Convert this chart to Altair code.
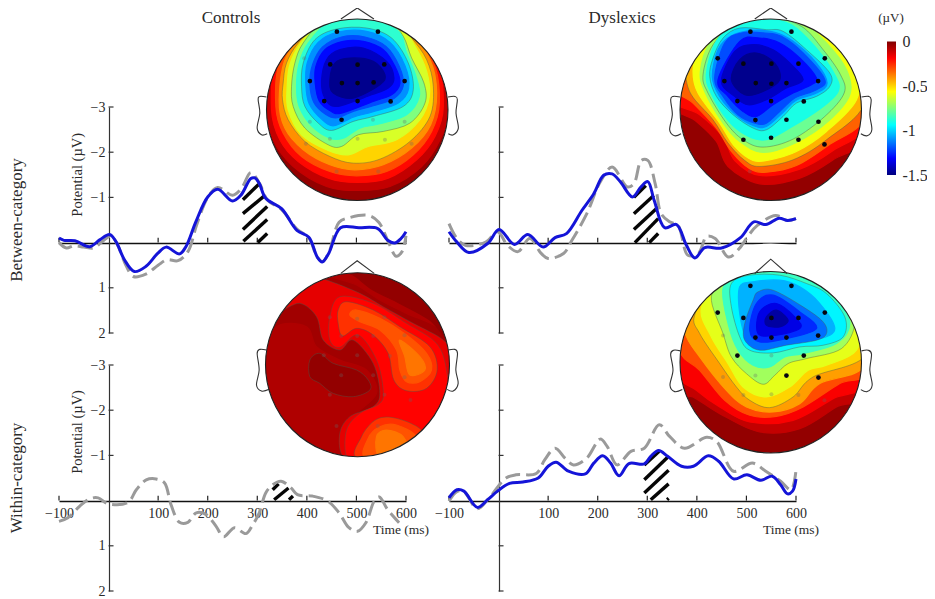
import numpy as np
import pandas as pd
import altair as alt

SERIF = "Liberation Serif"
INK = "#2a2a2a"
JET_V = [-1.5, -1.3125, -1.125, -0.9375, -0.75, -0.5625, -0.375, -0.1875, 0]
JET_C = ["#00007f", "#0000ff", "#007fff", "#00ffff", "#7fff7f", "#ffff00", "#ff7f00", "#ff0000", "#7f0000"]

# ---- time courses (ms, potential in uV) ----
TL_T = [-100,-90,-68,-38,-18,2,15,32,52,75,99,116,143,156,176,200,220,250,267,287,295,304,317,349,380,404,421,431,444,468,505,543,563,577,590,600]
TL_B = [-0.10,-0.05,-0.04,0.09,-0.06,-0.18,-0.02,0.38,0.64,0.53,0.24,0.10,0.25,0.09,-0.46,-1.01,-1.18,-0.92,-1.05,-1.42,-1.43,-1.31,-0.98,-0.75,-0.27,-0.12,0.32,0.43,0.24,-0.33,-0.33,-0.31,-0.05,0.01,-0.09,-0.24]
TL_GT = [-100,-85,-70,-50,-30,-15,5,18,35,50,75,100,118,140,160,178,200,220,250,268,287,305,320,350,380,404,421,432,445,465,485,525,545,565,580,592,600]
TL_G = [0.0,0.12,0.07,0.1,0.12,0.0,-0.15,0.05,0.5,0.75,0.7,0.5,0.38,0.4,0.2,-0.4,-1.0,-1.22,-1.05,-1.2,-1.55,-1.3,-0.95,-0.72,-0.3,-0.1,0.32,0.42,0.2,-0.45,-0.55,-0.6,-0.45,0.0,0.3,0.2,-0.15]
TR_T = [-100,-84,-60,-22,1,32,59,90,114,137,168,192,212,229,246,270,287,301,314,335,359,379,396,416,450,488,515,539,566,583,600]
TR_B = [-0.24,-0.01,0.22,0.02,-0.29,0.04,-0.18,0.10,-0.11,-0.20,-0.71,-1.08,-1.49,-1.52,-1.34,-1.01,-1.23,-1.35,-0.93,-0.33,-0.40,0.06,0.34,0.11,0.12,-0.11,-0.46,-0.40,-0.54,-0.49,-0.53]
TR_GT = [-100,-84,-67,-26,-2,18,39,63,86,100,131,148,178,205,229,260,273,288,301,316,328,345,362,382,403,420,437,464,488,501,522,559,583,600]
TR_G = [-0.42,-0.09,0.06,-0.01,-0.24,0.06,0.2,-0.09,0.24,0.35,0.24,-0.05,-0.64,-1.34,-1.67,-1.23,-1.3,-1.82,-1.82,-1.3,-0.64,-0.46,-0.38,0.28,0.24,-0.14,-0.09,0.32,0.1,-0.11,-0.38,-0.6,-0.49,-0.53]
BL_GT = [-100,-82,-58,-38,-21,-1,39,56,76,96,113,126,143,160,177,197,217,232,254,277,291,304,317,331,348,368,381,411,442,465,485,502,519,536,546,563,586]
BL_G = [0.46,0.38,0.12,-0.04,-0.06,0.07,0.04,-0.24,-0.46,-0.48,-0.39,0.09,0.48,0.48,0.27,0.31,0.57,0.8,0.6,0.73,0.53,0.27,-0.17,-0.35,-0.43,-0.28,-0.13,-0.1,0.01,0.27,0.6,0.68,0.49,0.01,-0.08,0.2,0.49]
BR_T = [-100,-84,-70,-43,-22,-2,22,49,80,100,116,141,175,192,210,226,243,263,294,307,323,341,369,393,423,444,474,501,529,552,569,583,593,600]
BR_B = [-0.06,-0.24,-0.21,0.15,-0.02,-0.21,-0.38,-0.41,-0.5,-0.76,-0.85,-0.65,-0.59,-0.83,-0.99,-0.83,-0.55,-0.82,-0.81,-0.98,-1.11,-0.98,-0.76,-0.76,-0.99,-0.87,-0.48,-0.57,-0.45,-0.54,-0.35,-0.15,-0.21,-0.48]
BR_GT = [-100,-84,-70,-43,-19,15,35,76,93,114,134,151,178,205,219,239,267,294,324,345,375,420,440,474,512,539,569,590,600]
BR_G = [0.01,-0.2,-0.2,0.18,-0.06,-0.5,-0.57,-0.6,-0.9,-1.16,-0.94,-0.79,-0.94,-1.36,-1.2,-0.79,-1.09,-1.16,-1.68,-1.42,-1.16,-1.4,-1.31,-0.65,-0.83,-0.65,-0.43,-0.24,-0.67]

# hatch strokes: t0, v0, t1, v1
TL_H = [(272,-0.03,320,-0.51),(271,-0.29,320,-0.8),(271,-0.64,316,-1.05),(271,-0.95,303,-1.29),(301,0.0,320,-0.2)]
TR_H = [(275,0,322,-0.53),(273,-0.29,322,-0.79),(273,-0.64,313,-1.04),(273,-1.0,297,-1.26),(304,0,322,-0.2)]
BL_H = [(334,-0.02,363,-0.28),(331,-0.24,343,-0.37),(364,-0.02,372,-0.1)]
BR_H = [(307,-0.02,343,-0.37),(294,-0.17,343,-0.67),(294,-0.46,341,-0.96),(294,-0.79,324,-1.09),(340,-0.02,343,-0.05)]

X_TICKS = [-100, 100, 200, 300, 400, 500, 600]
Y_TICKS = [-3, -2, -1, 1, 2]

# ---- scalp maps: (level in uV, closed outline x y x y ..., drawn contour?) ----
H1_BANDS = [
 (-0.1,[82,330,100,420,160,500,260,560,352,572,450,560,545,500,600,420,624,330,600,190,500,90,352,40,200,90,100,190],False),
 (-0.2,[95,330,120,420,175,485,265,535,352,548,445,535,530,480,585,410,610,320,590,190,495,90,352,40,205,90,110,190],False),
 (-0.3,[108,320,130,400,185,470,270,515,350,528,440,515,520,465,575,395,598,310,580,190,490,90,352,42,210,90,120,190],False),
 (-0.4,[118,300,135,385,190,450,270,495,345,510,430,495,515,445,572,375,590,280,570,180,505,100,352,45,225,85,140,170],False),
 (-0.5,[130,250,128,300,145,360,195,425,270,470,340,490,420,478,510,425,570,350,580,260,560,180,515,115,470,70,352,50,235,75,175,130,140,190],True),
 (-0.62,[142,260,145,330,185,405,265,452,325,465,385,440,470,420,540,360,568,290,560,215,525,140,475,75,352,50,240,72,180,135,150,195],False),
 (-0.75,[155,260,160,320,195,385,265,435,305,440,355,405,430,395,510,370,555,310,552,250,515,175,490,110,450,70,352,52,250,68,190,130,165,190],True),
 (-0.87,[170,260,178,320,215,378,270,415,310,415,360,385,420,372,500,345,538,290,528,230,500,160,470,90,352,52,270,65,205,130,178,190],False),
 (-1.0,[185,260,195,320,235,370,275,392,340,365,400,350,490,320,520,270,505,190,455,115,380,85,290,88,225,120,190,190],True),
 (-1.1,[198,255,208,312,245,358,282,378,340,352,400,336,475,310,506,266,495,198,450,128,380,95,295,97,235,128,202,190],False),
 (-1.2,[210,252,222,308,258,344,292,354,342,334,400,318,462,296,490,258,478,200,438,140,375,112,305,112,248,142,218,195],False),
 (-1.3,[226,250,238,304,272,334,305,340,400,305,455,285,480,250,465,200,430,150,370,125,310,125,255,150,228,200],False),
 (-1.4,[245,245,255,295,290,320,395,285,445,265,462,235,440,185,370,145,300,150,260,180],False),
 (-1.48,[270,240,280,280,340,295,420,255,435,225,400,185,330,175,285,190],False),
]
H1_ON = [291,96,414,96,271,194,353,195,433,194,210,244,306,250,353,250,401,248,494,244,253,304,353,304,452,305,305,360]
H1_OFF = [193,176,210,366,399,360,494,366,270,417,353,417,435,420,290,515,415,515,515,432,198,432]
H1_EARS = [[80,292,60,290,55,300,60,340,52,385,65,405,82,402],[624,292,645,290,652,300,648,340,655,385,640,405,625,402]]
H1_NOSE = [303,58,352,25,402,58]

H2_BANDS = [
 (-0.12,[40,310,110,365,170,425,205,500,300,552,420,535,520,480,620,400,610,130,333,10,56,130],False),
 (-0.2,[40,295,120,345,190,412,225,482,300,527,420,508,520,452,620,368,610,130,333,10,56,130],False),
 (-0.33,[50,265,100,310,170,385,215,455,270,507,320,517,410,497,505,437,620,345,610,130,333,10,56,130],False),
 (-0.45,[75,215,95,285,160,360,205,430,255,482,300,500,400,480,500,420,615,310,610,130,333,20,60,120],True),
 (-0.58,[100,215,115,280,180,370,225,440,280,482,330,480,410,455,500,395,590,300,590,200,510,110,333,30,170,90,115,160],False),
 (-0.7,[122,215,135,275,190,370,240,425,310,458,410,428,505,365,570,285,560,210,500,130,420,60,333,40,220,65,150,130],False),
 (-0.78,[130,225,145,280,200,370,250,420,310,442,400,418,495,350,553,280,542,225,490,150,425,80,333,55,230,75,160,135],True),
 (-0.9,[140,222,155,282,205,362,262,408,320,420,390,385,480,328,535,275,525,225,465,140,395,75,320,58,235,68,170,125],False),
 (-1.0,[150,230,170,290,220,345,280,385,320,390,370,350,410,310,470,290,510,260,510,220,440,150,370,95,320,90,240,85,190,115,160,175],True),
 (-1.1,[158,232,180,290,228,345,282,378,320,380,368,340,408,302,470,280,502,250,470,190,400,125,345,98,280,92,215,108,175,150],False),
 (-1.2,[165,235,190,290,235,345,285,370,320,370,365,330,405,295,470,270,495,240,430,160,365,110,315,100,245,100,195,130],False),
 (-1.3,[175,240,205,290,250,335,290,350,340,315,400,280,455,255,470,235,420,175,360,130,300,115,240,125],False),
 (-1.4,[185,245,225,290,265,315,320,300,380,265,430,240,390,190,340,150,280,135,225,155],False),
 (-1.48,[215,240,255,285,310,275,360,240,345,190,290,160,240,180],False),
]
H2_ON = [272,96,395,96,174,176,495,176,251,192,335,192,416,192,194,244,288,250,335,252,380,250,475,244,233,304,334,304,432,305,287,361,380,360,476,366,251,420,334,414,416,420,494,434]
H2_OFF = [270,515]
H2_EARS = [[61,292,40,290,33,300,38,345,30,390,45,408,64,402],[605,292,626,290,634,300,630,345,636,390,622,408,603,402]]
H2_NOSE = [285,58,333,25,382,58]

H3_BANDS = [
 (-0.07,[70,300,110,200,200,200,230,260,300,300,380,330,410,400,340,470,300,540,290,600,180,560,90,440],False),
 (-0.15,[200,50,260,60,360,100,430,140,520,190,610,240,650,300,640,420,560,550,380,610,310,590,300,520,330,470,400,440,420,400,400,310,340,240,300,270,250,240,230,170,180,130,120,150,140,80],True),
 (-0.19,[270,170,300,110,400,130,500,190,590,250,620,330,620,430,540,560,360,600,320,590,320,510,360,460,420,430,430,390,410,300,355,225,300,262,270,240],True),
 (-0.26,[295,190,295,150,320,125,400,150,480,200,570,260,592,330,560,385,500,392,462,360,445,280,400,225,350,205,308,228],True),
 (-0.26,[358,595,365,530,410,478,470,475,545,510,565,570],True),
 (-0.31,[330,165,350,150,420,175,500,225,560,280,575,330,540,365,500,365,480,330,470,270,420,210,360,185],False),
 (-0.31,[380,595,385,535,420,500,470,495,530,530,530,585],False),
 (-0.36,[480,240,540,290,555,330,510,345,495,290],False),
 (-0.36,[410,530,440,510,490,530,500,580,420,590],False),
 (-0.07,[270,40,350,75,420,120,500,160,590,200,640,260,610,90,450,10],False),
 (-0.03,[300,35,340,45,400,90,480,130,570,180,625,235,600,100,450,20],False),
 (-0.03,[210,350,210,300,240,280,280,310,350,330,385,360,390,390,340,410,280,400,240,370],True),
]
H3_ON = []
H3_OFF = [270,172,352,176,434,172,304,228,352,228,400,228,494,226,252,286,352,286,450,288,304,346,400,346,494,352,270,404,434,404,512,420,290,498,414,498]
H3_EARS = [[80,270,60,268,52,280,58,330,50,375,65,393,88,388],[625,270,645,268,653,280,648,330,655,370,640,393,622,388]]
H3_NOSE = [303,40,352,2,403,40]

H4_BANDS = [
 (-0.1,[40,420,100,440,180,490,300,545,420,535,530,470,620,420,610,140,333,20,56,140],False),
 (-0.18,[50,360,110,420,180,470,270,515,400,510,520,445,620,390,610,140,333,20,56,140],False),
 (-0.3,[60,300,120,360,195,450,270,495,350,498,430,470,540,400,620,360,610,140,333,20,56,140],False),
 (-0.42,[75,245,120,320,200,420,260,470,340,485,420,460,480,400,620,340,610,140,333,30,60,120],False),
 (-0.5,[105,195,120,250,180,340,230,410,270,450,330,472,400,440,460,380,620,312,610,140,520,80,333,40,170,90],True),
 (-0.6,[125,175,155,260,205,340,250,410,320,440,390,410,445,360,500,345,590,300,600,200,520,100,333,45,190,90],False),
 (-0.7,[155,140,190,250,215,320,260,370,310,402,345,375,385,340,440,325,545,295,585,220,560,150,490,90,360,60,210,90],True),
 (-0.85,[190,115,205,220,235,300,280,345,330,350,375,320,430,310,530,280,570,220,530,140,470,90,350,62,240,80],False),
 (-0.95,[215,100,215,170,240,260,270,300,340,308,420,290,490,285,550,260,555,200,500,130,440,100,360,75,270,75],True),
 (-1.05,[240,110,240,190,260,265,300,290,380,275,480,265,525,235,480,160,420,110,360,90,280,95],False),
 (-1.15,[280,150,295,125,340,120,430,170,490,215,500,250,470,270,380,285,300,300,255,270,255,220],True),
 (-1.25,[290,160,340,135,420,185,470,235,380,265,300,275,270,240],False),
 (-1.35,[300,185,350,160,410,205,420,235,350,255,295,250],False),
 (-1.45,[320,200,350,180,385,210,360,230,320,225],False),
]
H4_ON = [272,107,395,107,174,187,495,187,251,203,335,203,416,203,287,262,335,262,380,262,475,256,233,316,432,316,380,376,476,382]
H4_OFF = [190,256,335,316,287,376,190,380,251,434,335,432,416,434,494,450]
H4_EARS = [[62,302,42,300,33,312,40,360,31,405,45,424,68,418],[605,302,625,300,635,312,630,360,637,405,622,424,603,418]]
H4_NOSE = [285,70,333,27,382,70]

W, H = 919, 590


def jet(v):
    stops = np.array([[int(c[i:i + 2], 16) for i in (1, 3, 5)] for c in JET_C], float)
    rgb = [int(round(np.interp(v, JET_V, stops[:, k]))) for k in range(3)]
    return "#%02x%02x%02x" % tuple(rgb)


def pts(flat):
    a = np.array(flat, float).reshape(-1, 2)
    return pd.DataFrame({"x": a[:, 0], "y": a[:, 1], "i": np.arange(len(a))})


def head(bands, on, off, ears, nose, dom_x, dom_y, box, base):
    left, right, top, bottom = box
    xs = alt.Scale(domain=dom_x, range=[left - 8, right - 8], nice=False, zero=False)
    ys = alt.Scale(domain=dom_y, range=[top - 8, bottom - 8], nice=False, zero=False)
    ex = alt.X("x:Q", scale=xs, axis=None)
    ey = alt.Y("y:Q", scale=ys, axis=None)
    enc = dict(x=ex, y=ey, order=alt.Order("i:Q"))
    centre = pd.DataFrame({"x": [(dom_x[0] + dom_x[1]) / 2], "y": [(dom_y[0] + dom_y[1]) / 2]})
    d = right - left
    layers = [alt.Chart(centre).mark_point(filled=True, size=d * d, color=jet(base), opacity=1).encode(x=ex, y=ey)]
    for v, outline, drawn in bands:
        c = jet(v)
        layers.append(
            alt.Chart(pts(outline)).mark_line(
                interpolate="cardinal-closed", fill=c, stroke=c if not drawn else "#4a5a4a",
                strokeWidth=1.2 if not drawn else 0.6, strokeOpacity=1 if not drawn else 0.7,
            ).encode(**enc)
        )
    ring = 28
    layers.append(alt.Chart(centre).mark_point(filled=False, size=(d + ring) ** 2, stroke="white",
                                               strokeWidth=ring, opacity=1).encode(x=ex, y=ey))
    layers.append(alt.Chart(centre).mark_point(filled=False, size=d * d, stroke="#222222",
                                               strokeWidth=1.1, opacity=1).encode(x=ex, y=ey))
    if off:
        layers.append(alt.Chart(pts(off)).mark_circle(size=16, color="#666666", opacity=0.3).encode(x=ex, y=ey))
    if on:
        layers.append(alt.Chart(pts(on)).mark_circle(size=22, color="#050510", opacity=1).encode(x=ex, y=ey))
    for e in ears:
        layers.append(alt.Chart(pts(e)).mark_line(interpolate="cardinal", stroke="#333333", strokeWidth=1.1).encode(**enc))
    layers.append(alt.Chart(pts(nose)).mark_line(stroke="#333333", strokeWidth=1.1).encode(**enc))
    return alt.layer(*layers)


def panel(px, py, series, hatch, show_x, show_y, title_y):
    xs = alt.Scale(domain=[-100, 600], range=[px - 8, px + 347 - 8], nice=False, zero=False)
    ys = alt.Scale(domain=[-3, 2], range=[py - 8, py + 226 - 8], nice=False, zero=False)
    y0 = py + 136  # position of the zero line
    x_ax = alt.Axis(values=X_TICKS, orient="bottom", offset=(y0 - 8) - H, title=None, grid=False,
                    domainColor="#111111", domainWidth=1.5, ticks=False, labels=show_x, labelFlush=False,
                    labelFont=SERIF, labelFontSize=14, labelColor=INK, labelPadding=5)
    y_ax = alt.Axis(values=Y_TICKS, orient="left", offset=-(px + 50 - 8), title=None, grid=False,
                    domainColor="#333333", domainWidth=1.2, ticks=False, labels=show_y, format="d", labelFlush=False,
                    labelFont=SERIF, labelFontSize=14, labelColor=INK, labelPadding=4)
    ex = alt.X("t:Q", scale=xs, axis=x_ax)
    ey = alt.Y("v:Q", scale=ys, axis=y_ax)
    layers = []
    xt = pd.DataFrame({"t": X_TICKS, "v": 0.0, "v2": -0.11})
    layers.append(alt.Chart(xt).mark_rule(color="#222222", strokeWidth=1.2).encode(x=ex, y=ey, y2="v2:Q"))
    yt = pd.DataFrame({"t": 0.0, "t2": 10.0, "v": Y_TICKS})
    layers.append(alt.Chart(yt).mark_rule(color="#333333", strokeWidth=1.2).encode(x=ex, x2="t2:Q", y=ey))
    hd = pd.DataFrame(hatch, columns=["t", "v", "t2", "v2"])
    layers.append(alt.Chart(hd).mark_rule(color="#050505", strokeWidth=3.4).encode(x=ex, x2="t2:Q", y=ey, y2="v2:Q"))
    for ts, vs, col, w, dash in series:
        df = pd.DataFrame({"t": ts, "v": vs})
        kw = {"strokeDash": dash} if dash else {}
        layers.append(alt.Chart(df).mark_line(interpolate="catmull-rom", color=col, strokeWidth=w, **kw).encode(x=ex, y=ey))
    lab = pd.DataFrame({"t": [-62.0], "v": [title_y], "s": ["Potential  (µV)"]})
    if show_y:
        layers.append(alt.Chart(lab).mark_text(angle=270, font=SERIF, fontSize=14.5, color=INK).encode(x=ex, y=ey, text="s:N"))
    if show_x:
        tm = pd.DataFrame({"t": [590.0], "v": [0.64], "s": ["Time (ms)"]})
        layers.append(alt.Chart(tm).mark_text(font=SERIF, fontSize=13.5, color=INK).encode(x=ex, y=ey, text="s:N"))
    return alt.layer(*layers)


GREY = "#9a9a9a"
BLUE = "#1414d8"
DASH = [15, 6]

heads = [
    head(H1_BANDS, H1_ON, H1_OFF, H1_EARS, H1_NOSE, [80, 624], [58, 602], (266.5, 448, 19, 200.5), -0.03),
    head(H2_BANDS, H2_ON, H2_OFF, H2_EARS, H2_NOSE, [61, 605], [58, 602], (680, 861.5, 19, 200.5), -0.03),
    head(H3_BANDS, H3_ON, H3_OFF, H3_EARS, H3_NOSE, [77, 629], [38, 590], (265.5, 449.5, 272.7, 456.7), -0.05),
    head(H4_BANDS, H4_ON, H4_OFF, H4_EARS, H4_NOSE, [61, 605], [64, 608], (680, 861.5, 271.5, 453), -0.03),
]
panels = [
    panel(59, 107, [(TL_GT, TL_G, GREY, 3, DASH), (TL_T, TL_B, BLUE, 3, None)], TL_H, False, True, -1.5),
    panel(449, 107, [(TR_GT, TR_G, GREY, 3, DASH), (TR_T, TR_B, BLUE, 3, None)], TR_H, False, False, -1.5),
    panel(59, 365, [(BL_GT, BL_G, GREY, 3, DASH)], BL_H, True, True, -1.52),
    panel(449, 365, [(BR_GT, BR_G, GREY, 3, DASH), (BR_T, BR_B, BLUE, 3, None)], BR_H, True, False, -1.52),
]

# colour bar
cb_stops = [alt.GradientStop(offset=i / 8, color=c) for i, c in enumerate(reversed(JET_C))]
cb_y = alt.Scale(domain=[-1.5, 0], range=[175 - 8, 41.5 - 8], nice=False, zero=False)
colorbar = alt.Chart(pd.DataFrame({"a": [-1.5], "b": [0.0]})).mark_rect(
    fill=alt.Gradient(gradient="linear", stops=cb_stops, x1=0, x2=0, y1=0, y2=1)
).encode(
    x=alt.value(879), x2=alt.value(888),
    y=alt.Y("a:Q", scale=cb_y, axis=alt.Axis(
        values=[0, -0.5, -1, -1.5], orient="right", offset=-31, title=None, grid=False, domain=False, ticks=False,
        labelFont=SERIF, labelFontSize=16, labelColor=INK, labelPadding=6,
        labelExpr="replace(format(datum.value, '~g'), '−', '-')")),
    y2="b:Q",
)


def label(s, x, y, size, angle=0):
    df = pd.DataFrame({"s": [s]})
    return alt.Chart(df).mark_text(font=SERIF, fontSize=size, color=INK, angle=angle).encode(
        x=alt.value(x - 8), y=alt.value(y - 8), text="s:N")


texts = [
    label("Controls", 231, 18, 17),
    label("Dyslexics", 622, 18, 17),
    label("(µV)", 891, 18, 13),
    label("Between-category", 17, 220, 17, 270),
    label("Within-category", 17, 478, 17, 270),
]

chart = alt.layer(*heads, *panels, colorbar, *texts).resolve_scale(
    x="independent", y="independent"
).properties(
    width=W, height=H, padding=0, autosize=alt.AutoSizeParams(type="none"), background="white"
).configure_view(stroke=None)

chart.save("out.html", embed_options={"renderer": "svg", "actions": False})
